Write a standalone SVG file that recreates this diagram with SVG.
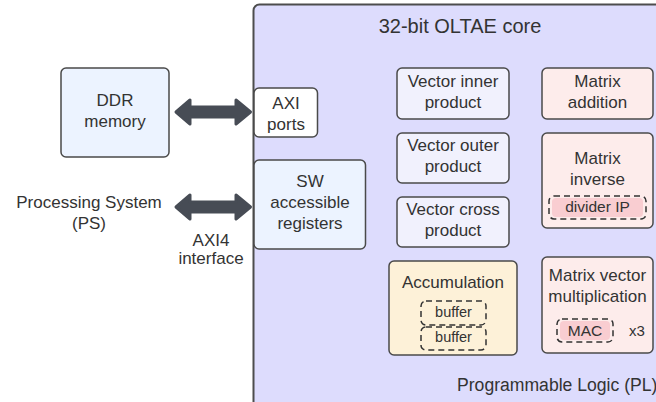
<svg xmlns="http://www.w3.org/2000/svg" width="656" height="402" viewBox="0 0 656 402">
  <style>
    text { font-family: "Liberation Sans", Arial, sans-serif; fill: #333333; text-anchor: middle; }
    .t17 { font-size: 17px; }
    .t15 { font-size: 15.5px; }
    .t14 { font-size: 14.5px; }
    .box { stroke: #4a4a4a; stroke-width: 1.5; }
    .dash { fill: none; stroke: #333333; stroke-width: 1.5; stroke-dasharray: 6 4; }
    .arrow { fill: #474c55; stroke: #474c55; stroke-width: 3; stroke-linejoin: round; }
  </style>

  <!-- Programmable Logic region -->
  <g id="pl">
    <rect x="253.5" y="4.5" width="460" height="450" rx="6" fill="#dddcfd" stroke="#4d4d4d" stroke-width="2"/>
    <text class="t17" x="460" y="33" style="font-size:20px">32-bit OLTAE core</text>
    <text class="t17" x="457" y="391" style="text-anchor:start;font-size:17.6px">Programmable Logic (PL)</text>
  </g>

  <!-- Processing System side -->
  <g id="ddr">
    <rect class="box" x="61" y="68" width="108" height="89" rx="5" fill="#ecf3ff"/>
    <text class="t17" x="115" y="106">DDR</text>
    <text class="t17" x="115" y="127">memory</text>
  </g>
  <g id="ps">
    <text class="t17" x="89" y="208">Processing System</text>
    <text class="t17" x="89" y="229">(PS)</text>
  </g>

  <!-- Interface blocks -->
  <g id="axi-ports">
    <rect class="box" x="254" y="88" width="63.5" height="49" rx="5" fill="#ffffff"/>
    <text class="t17" x="286" y="109">AXI</text>
    <text class="t17" x="286" y="130">ports</text>
  </g>
  <g id="sw-regs">
    <rect class="box" x="254" y="160" width="111.5" height="89" rx="5" fill="#ecf3ff"/>
    <text class="t17" x="310" y="187">SW</text>
    <text class="t17" x="310" y="208">accessible</text>
    <text class="t17" x="310" y="229">registers</text>
  </g>

  <!-- Vector units -->
  <g id="vec-inner">
    <rect class="box" x="397" y="68" width="112" height="51" rx="5" fill="#f1f1fd"/>
    <text class="t17" x="453" y="87">Vector inner</text>
    <text class="t17" x="453" y="108">product</text>
  </g>
  <g id="vec-outer">
    <rect class="box" x="397" y="133" width="112" height="50" rx="5" fill="#f1f1fd"/>
    <text class="t17" x="453" y="151">Vector outer</text>
    <text class="t17" x="453" y="172">product</text>
  </g>
  <g id="vec-cross">
    <rect class="box" x="397" y="197" width="112" height="50" rx="5" fill="#f1f1fd"/>
    <text class="t17" x="453" y="215">Vector cross</text>
    <text class="t17" x="453" y="236">product</text>
  </g>

  <!-- Accumulation unit -->
  <g id="accum">
    <rect class="box" x="389" y="261" width="128" height="94" rx="5" fill="#fdf1d8"/>
    <text class="t17" x="453" y="288">Accumulation</text>
    <rect class="dash" x="421" y="301" width="65" height="24" rx="5"/>
    <text class="t14" x="453.5" y="317">buffer</text>
    <rect class="dash" x="421" y="327" width="65" height="23" rx="5"/>
    <text class="t14" x="453.5" y="342">buffer</text>
  </g>

  <!-- Matrix units -->
  <g id="mat-add">
    <rect class="box" x="542" y="68" width="111" height="51" rx="5" fill="#fdeceb"/>
    <text class="t17" x="597.5" y="87">Matrix</text>
    <text class="t17" x="597.5" y="108">addition</text>
  </g>
  <g id="mat-inv">
    <rect class="box" x="542" y="133" width="111" height="95" rx="5" fill="#fdeceb"/>
    <text class="t17" x="597.5" y="164">Matrix</text>
    <text class="t17" x="597.5" y="185">inverse</text>
    <rect x="552" y="198" width="91" height="19" rx="4" fill="#f9cdd1"/>
    <rect class="dash" x="549" y="196" width="97" height="23" rx="5"/>
    <text class="t15" x="597.5" y="212">divider IP</text>
  </g>
  <g id="mat-vec">
    <rect class="box" x="542" y="257" width="111" height="96" rx="5" fill="#fdeceb"/>
    <text class="t17" x="597.5" y="281">Matrix vector</text>
    <text class="t17" x="597.5" y="302">multiplication</text>
    <rect x="560" y="321" width="50" height="19" rx="4" fill="#f9cdd1"/>
    <rect class="dash" x="557" y="319" width="56" height="23" rx="5"/>
    <text class="t15" x="585" y="336">MAC</text>
    <text class="t15" x="629" y="336" style="text-anchor:start;font-size:15px">x3</text>
  </g>

  <!-- Connectors -->
  <g id="connectors">
    <path class="arrow" d="M176,112 L190,100 L190,107 L236,107 L236,100 L250.5,112 L236,124 L236,117 L190,117 L190,124 Z"/>
    <path class="arrow" d="M176,207 L190,195 L190,202 L236,202 L236,195 L250.5,207 L236,219 L236,212 L190,212 L190,219 Z"/>
    <text class="t17" x="211" y="246">AXI4</text>
    <text class="t17" x="211" y="264">interface</text>
  </g>
</svg>
